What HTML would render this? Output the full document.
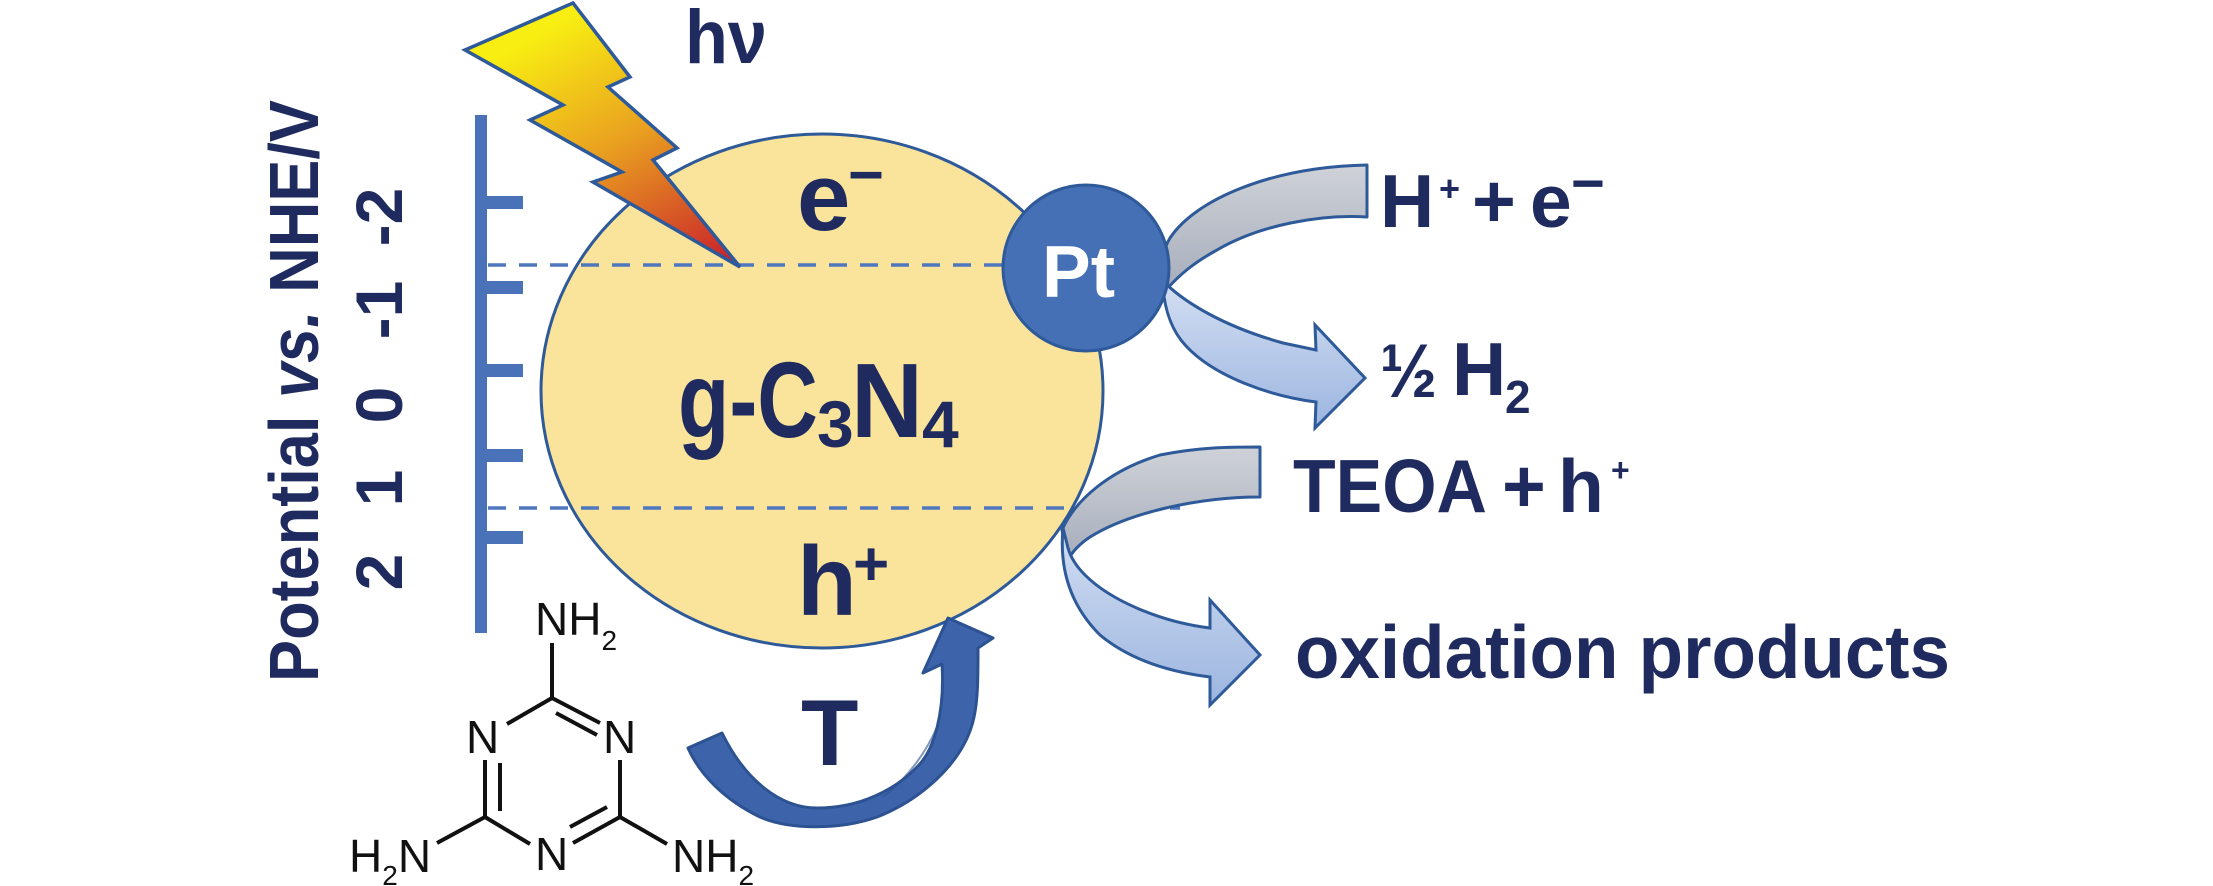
<!DOCTYPE html>
<html>
<head>
<meta charset="utf-8">
<style>
  html,body{margin:0;padding:0;background:#fff;}
  svg{display:block;}
  .t{font-family:"Liberation Sans", Arial, sans-serif;font-weight:bold;fill:#1f2b5f;}
  .m{font-family:"Liberation Sans", Arial, sans-serif;font-weight:normal;fill:#111;}
</style>
</head>
<body>
<svg width="2213" height="886" viewBox="0 0 2213 886" xmlns="http://www.w3.org/2000/svg">
  <defs>
    <linearGradient id="bolt" gradientUnits="userSpaceOnUse" x1="590" y1="5" x2="735" y2="265">
      <stop offset="0" stop-color="#f8ee12"/>
      <stop offset="0.45" stop-color="#e9a020"/>
      <stop offset="1" stop-color="#c81d2b"/>
    </linearGradient>
    <linearGradient id="gray" x1="0" y1="0" x2="0" y2="1">
      <stop offset="0" stop-color="#cfd2d8"/>
      <stop offset="1" stop-color="#a6adbb"/>
    </linearGradient>
    <linearGradient id="lblue" x1="0" y1="0" x2="0" y2="1">
      <stop offset="0" stop-color="#d2def2"/>
      <stop offset="1" stop-color="#9cb5e0"/>
    </linearGradient>
  </defs>

  <!-- axis -->
  <rect x="475" y="115" width="12" height="518" fill="#4a72b8"/>
  <rect x="486" y="196" width="37" height="13" fill="#4a72b8"/>
  <rect x="486" y="281" width="37" height="13" fill="#4a72b8"/>
  <rect x="486" y="364" width="37" height="13" fill="#4a72b8"/>
  <rect x="486" y="449" width="37" height="13" fill="#4a72b8"/>
  <rect x="486" y="531" width="37" height="13" fill="#4a72b8"/>

  <!-- main particle -->
  <ellipse cx="822" cy="391" rx="281" ry="257" fill="#fae49c" stroke="#2e5a9a" stroke-width="3"/>

  <!-- dashed band edges -->
  <line x1="488" y1="265" x2="1178" y2="265" stroke="#4f77bd" stroke-width="3.5" stroke-dasharray="18 13"/>
  <line x1="488" y1="508" x2="1180" y2="508" stroke="#4f77bd" stroke-width="3.5" stroke-dasharray="18 13"/>

  <!-- lightning bolt -->
  <polygon points="465,50 573,3 630,77 608,87 677,148 653,160 740,267 593,182 622,172 530,120 563,105"
           fill="url(#bolt)" stroke="#2e5a9a" stroke-width="3.5" stroke-linejoin="miter"/>

  <!-- T curved arrow -->
  <path d="M688,748 C700,775 725,800 760,817 C790,830 840,830 877,817 C920,800 960,765 972,725 C978,705 978,680 978,648 L993,638 L948,618 L923,673 L942,664 C945,710 935,750 917,767 C895,790 860,808 817,808 C780,808 745,780 722,733 Z"
        fill="#3d64ab" stroke="#2c5291" stroke-width="3" stroke-linejoin="round"/>
  <path d="M883,797 C905,780 925,755 937,727" fill="none" stroke="#2c5291" stroke-width="2" opacity="0.6"/>

  <!-- upper right arrow (H+ + e- -> 1/2 H2) -->
  <path d="M1367,165 L1367,217 C1320,214 1260,225 1217,250 C1195,262 1180,274 1166,290 C1158,275 1160,255 1170,238 C1195,200 1270,167 1367,165 Z"
        fill="url(#gray)" stroke="#2e5a9a" stroke-width="3" stroke-linejoin="round"/>
  <path d="M1166,284 C1185,302 1222,326 1283,343 L1316,350 L1315,325 L1365,378 L1315,428 L1316,402 C1270,396 1215,377 1186,346 C1171,330 1165,310 1163,288 Z"
        fill="url(#lblue)" stroke="#2e5a9a" stroke-width="3" stroke-linejoin="miter"/>

  <!-- lower right arrow (TEOA + h+ -> oxidation products) -->
  <path d="M1260,447 L1260,497 C1200,497 1130,512 1090,537 C1078,545 1072,552 1068,560 L1062,530 C1075,500 1110,470 1160,455 C1200,447 1230,447 1260,447 Z"
        fill="url(#gray)" stroke="#2e5a9a" stroke-width="3" stroke-linejoin="round"/>
  <path d="M1063,528 C1060,560 1065,600 1100,635 C1130,660 1170,672 1210,677 L1210,705 L1260,655 L1210,600 L1210,628 C1160,622 1110,600 1085,575 C1075,565 1070,555 1068,548 Z"
        fill="url(#lblue)" stroke="#2e5a9a" stroke-width="3" stroke-linejoin="miter"/>

  <!-- Pt -->
  <circle cx="1086" cy="268" r="83" fill="#4670b6" stroke="#2e5a9a" stroke-width="3"/>
  <text x="1042" y="297" font-size="73" style="font-family:'Liberation Sans',Arial,sans-serif;font-weight:bold;fill:#fff;">Pt</text>

  <!-- h nu -->
  <text class="t" x="685" y="63" font-size="76" textLength="82" lengthAdjust="spacingAndGlyphs">hν</text>

  <!-- particle labels -->
  <text class="t" x="797" y="230" font-size="96">e</text>
  <text class="t" x="848" y="195" font-size="60" textLength="36" lengthAdjust="spacingAndGlyphs">−</text>

  <text class="t" x="678" y="437" font-size="108" textLength="140" lengthAdjust="spacingAndGlyphs">g-C</text>
  <text class="t" x="817" y="447" font-size="66">3</text>
  <text class="t" x="851" y="437" font-size="106" textLength="72" lengthAdjust="spacingAndGlyphs">N</text>
  <text class="t" x="922" y="447" font-size="66">4</text>

  <text class="t" x="797" y="615" font-size="98">h</text>
  <text class="t" x="853" y="585" font-size="62">+</text>

  <text class="t" x="801" y="765" font-size="94">T</text>

  <!-- axis label & numbers -->
  <text class="t" transform="translate(318,682) rotate(-90)" font-size="70" textLength="582" lengthAdjust="spacingAndGlyphs">Potential <tspan font-style="italic">vs.</tspan> NHE/V</text>
  <text class="t" transform="translate(402,572) rotate(-90)" text-anchor="middle" font-size="66">2</text>
  <text class="t" transform="translate(402,488) rotate(-90)" text-anchor="middle" font-size="66">1</text>
  <text class="t" transform="translate(402,405) rotate(-90)" text-anchor="middle" font-size="66">0</text>
  <text class="t" transform="translate(402,310) rotate(-90)" text-anchor="middle" font-size="66">-1</text>
  <text class="t" transform="translate(402,217) rotate(-90)" text-anchor="middle" font-size="66">-2</text>

  <!-- right side texts -->
  <text class="t" x="1380" y="227" font-size="75">H</text>
  <text class="t" x="1439" y="201" font-size="36">+</text>
  <text class="t" x="1472" y="227" font-size="75">+</text>
  <text class="t" x="1530" y="227" font-size="75">e</text>
  <text class="t" x="1571" y="203" font-size="58">−</text>

  <text class="t" x="1380" y="397" font-size="76" textLength="57" lengthAdjust="spacingAndGlyphs">½</text>
  <text class="t" x="1452" y="395" font-size="75">H</text>
  <text class="t" x="1505" y="413" font-size="46">2</text>

  <text class="t" x="1293" y="512" font-size="75" textLength="194" lengthAdjust="spacingAndGlyphs">TEOA</text>
  <text class="t" x="1502" y="512" font-size="75">+</text>
  <text class="t" x="1558" y="512" font-size="75">h</text>
  <text class="t" x="1611" y="481" font-size="32">+</text>

  <text class="t" x="1295" y="678" font-size="75" textLength="655" lengthAdjust="spacingAndGlyphs">oxidation products</text>

  <!-- melamine -->
  <g stroke="#111" stroke-width="4" stroke-linecap="butt" fill="none">
    <line x1="552" y1="643" x2="552" y2="698"/>
    <line x1="552" y1="698" x2="507" y2="724"/>
    <line x1="552" y1="698" x2="600" y2="723"/>
    <line x1="556" y1="713" x2="597" y2="735"/>
    <line x1="485" y1="760" x2="485" y2="817"/>
    <line x1="500" y1="763" x2="500" y2="811"/>
    <line x1="620" y1="760" x2="620" y2="817"/>
    <line x1="485" y1="817" x2="437" y2="843"/>
    <line x1="485" y1="817" x2="530" y2="844"/>
    <line x1="620" y1="817" x2="573" y2="843"/>
    <line x1="607" y1="807" x2="570" y2="827"/>
    <line x1="620" y1="817" x2="667" y2="844"/>
  </g>
  <text class="m" x="535" y="635" font-size="46">NH<tspan font-size="28" dy="15">2</tspan></text>
  <text class="m" x="466" y="753" font-size="46">N</text>
  <text class="m" x="603" y="753" font-size="46">N</text>
  <text class="m" x="535" y="870" font-size="46">N</text>
  <text class="m" x="349" y="872" font-size="46">H<tspan font-size="28" dy="13">2</tspan><tspan dy="-13">N</tspan></text>
  <text class="m" x="672" y="872" font-size="46">NH<tspan font-size="28" dy="13">2</tspan></text>
</svg>
</body>
</html>
